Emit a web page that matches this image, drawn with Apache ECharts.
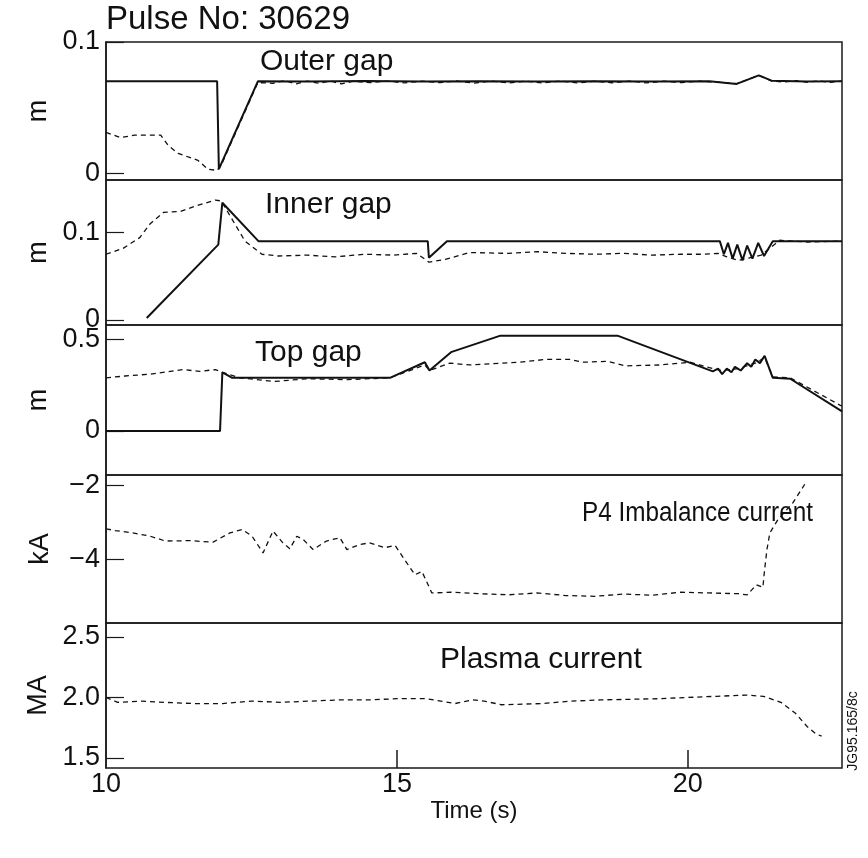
<!DOCTYPE html>
<html><head><meta charset="utf-8">
<script src="https://cdn.jsdelivr.net/npm/echarts@6/dist/echarts.min.js"></script>
<style>html,body{margin:0;padding:0;background:#fff}#c{width:868px;height:858px}</style>
</head><body><div id="c"></div>
<script>
// ---------- data ----------
const xLabelTicks = [10, 15, 20];
const xInnerTicks = [15, 20];

const outerGapRef = [[10,0.070],[11.91,0.070],[11.94,0.003],[12.61,0.070],[13.46,0.0698],[14.45,0.0702],[15.43,0.0699],[16.42,0.0701],[17.41,0.0699],[18.40,0.0701],[19.39,0.0699],[20.37,0.070],[20.84,0.068],[21.22,0.0745],[21.44,0.0705],[22.05,0.0698],[22.65,0.070]];
const outerGapMeas = [[10,0.031],[10.25,0.027],[10.49,0.029],[10.94,0.029],[11.07,0.021],[11.24,0.015],[11.58,0.0097],[11.75,0.003],[11.91,0.002],[11.98,0.006],[12.61,0.069],[12.87,0.0685],[13.07,0.0705],[13.27,0.068],[13.46,0.0702],[13.66,0.0685],[13.85,0.0703],[14.05,0.068],[14.25,0.0701],[14.54,0.069],[14.83,0.0702],[15.13,0.0688],[15.43,0.0701],[15.73,0.069],[16.02,0.0703],[16.32,0.0686],[16.62,0.0702],[16.92,0.0688],[17.21,0.0701],[17.51,0.0687],[17.81,0.0702],[18.1,0.0688],[18.4,0.0701],[18.7,0.0689],[19.0,0.0702],[19.29,0.0688],[19.59,0.0701],[19.88,0.069],[20.18,0.0701],[20.48,0.0695],[20.84,0.0682],[21.22,0.0745],[21.44,0.0702],[21.66,0.0695],[21.86,0.0705],[22.05,0.0693],[22.25,0.0703],[22.45,0.0692],[22.65,0.0702]];

const innerGapRef = [[10.70,0.002],[11.93,0.086],[12.0,0.134],[12.62,0.090],[15.53,0.090],[15.55,0.071],[15.86,0.090],[20.55,0.090],[20.62,0.075],[20.69,0.088],[20.77,0.070],[20.85,0.086],[20.94,0.068],[21.02,0.085],[21.11,0.070],[21.21,0.088],[21.31,0.073],[21.46,0.090],[22.65,0.090]];
const innerGapMeas = [[10,0.075],[10.30,0.082],[10.58,0.094],[10.76,0.110],[10.99,0.123],[11.28,0.124],[11.53,0.130],[11.88,0.137],[11.98,0.136],[12.39,0.090],[12.68,0.075],[12.96,0.073],[13.46,0.074],[13.95,0.072],[14.45,0.075],[14.94,0.074],[15.34,0.076],[15.55,0.066],[15.83,0.069],[16.25,0.077],[16.92,0.076],[17.41,0.078],[17.9,0.076],[18.4,0.075],[18.89,0.076],[19.39,0.074],[19.88,0.075],[20.28,0.075],[20.52,0.076],[20.67,0.072],[20.87,0.068],[21.07,0.071],[21.26,0.074],[21.58,0.091],[22.05,0.089],[22.65,0.090]];

const topGapRef = [[10,0],[11.96,0],[12.0,0.32],[12.17,0.29],[14.88,0.29],[15.48,0.375],[15.56,0.33],[15.93,0.43],[16.78,0.52],[18.79,0.52],[20.43,0.325],[20.52,0.34],[20.59,0.31],[20.67,0.34],[20.75,0.32],[20.81,0.35],[20.91,0.33],[21.02,0.37],[21.09,0.35],[21.16,0.39],[21.24,0.37],[21.32,0.41],[21.46,0.29],[21.76,0.285],[22.65,0.107]];
const topGapMeas = [[10,0.29],[10.33,0.30],[10.76,0.31],[11.32,0.335],[11.61,0.325],[11.88,0.335],[12.0,0.32],[12.3,0.29],[12.9,0.27],[13.46,0.285],[14.15,0.28],[14.88,0.29],[15.48,0.36],[15.56,0.33],[15.91,0.37],[16.25,0.36],[17.11,0.375],[17.55,0.39],[17.97,0.39],[18.2,0.375],[18.63,0.38],[18.92,0.355],[19.52,0.36],[20.04,0.375],[20.37,0.345],[20.57,0.33],[20.87,0.34],[21.16,0.37],[21.32,0.40],[21.46,0.295],[21.76,0.29],[22.65,0.135]];

const p4Imbalance = [[10.0,-3.17],[10.16,-3.22],[10.46,-3.28],[10.76,-3.37],[11.02,-3.5],[11.44,-3.49],[11.84,-3.53],[12.13,-3.28],[12.34,-3.19],[12.51,-3.37],[12.70,-3.82],[12.87,-3.23],[13.04,-3.55],[13.16,-3.71],[13.28,-3.37],[13.39,-3.46],[13.56,-3.73],[13.79,-3.5],[14.02,-3.41],[14.14,-3.73],[14.37,-3.59],[14.53,-3.55],[14.79,-3.68],[14.97,-3.62],[15.17,-4.09],[15.31,-4.41],[15.43,-4.32],[15.60,-4.9],[15.93,-4.88],[16.42,-4.92],[16.92,-4.95],[17.41,-4.9],[17.9,-4.97],[18.4,-4.99],[18.89,-4.93],[19.39,-4.96],[19.88,-4.88],[20.37,-4.9],[20.87,-4.92],[21.02,-4.95],[21.18,-4.68],[21.29,-4.75],[21.32,-4.27],[21.36,-3.73],[21.41,-3.28],[21.55,-2.92],[21.81,-2.46],[22.01,-1.97]];

const plasmaCurrent = [[10,2.0],[10.2,1.96],[10.6,1.97],[11.0,1.96],[11.5,1.95],[12.0,1.95],[12.5,1.97],[13.0,1.96],[13.5,1.97],[14.0,1.98],[14.5,1.98],[15.0,1.99],[15.5,1.99],[16.0,1.95],[16.3,1.98],[16.5,1.97],[16.8,1.94],[17.5,1.95],[18.0,1.97],[18.5,1.98],[19.5,1.99],[20.0,2.0],[20.5,2.01],[21.0,2.02],[21.3,2.01],[21.6,1.96],[21.85,1.87],[22.05,1.76],[22.2,1.70],[22.3,1.68]];

const panelNames = ['Outer gap','Inner gap','Top gap','P4 Imbalance current','Plasma current'];
const unitNames = ['m','m','m','kA','MA'];
const yTickValues = [[0,0.1],[0,0.1],[0,0.5],[-4,-2],[1.5,2.0,2.5]];
const yRanges = [[-0.0053,0.1],[-0.006,0.16],[-0.24,0.578],[-5.71,-1.72],[1.417,2.616]];

// ---------- layout ----------
const FONT = '"Liberation Sans", Arial, Helvetica, sans-serif';
const X_MAX = 22.65;
const gridBoxes = [[42,138],[180,145],[325,150],[475,148],[623,145]];
const labelPos = [[260,62],[265,205],[255,353],[582,514],[440,660]];
const labelSize = [30,30,30,27,30];
const labelScaleX = [1,1,1,0.9,1];
const fmt = [
  v => v===0 ? '0' : String(v),
  v => v===0 ? '0' : String(v),
  v => v===0 ? '0' : String(v),
  v => (v<0 ? '\u2212' + Math.abs(v) : String(v)),
  v => v.toFixed(1)
];

const grid = gridBoxes.map(g => ({left:106, right:26, top:g[0], height:g[1], show:true, borderColor:'#1a1a1a', borderWidth:1.5, backgroundColor:'transparent'}));
const xAxis = gridBoxes.map((g,i) => {
  const last = i === gridBoxes.length-1;
  return {
    type:'value', gridIndex:i, min:10, max:X_MAX,
    axisLine:{show:false}, splitLine:{show:false},
    axisTick:{show:last, inside:true, length:18, customValues:xInnerTicks, lineStyle:{color:'#1a1a1a', width:1.5}},
    axisLabel:{show:last, customValues:xLabelTicks, fontSize:27, color:'#111', fontFamily:FONT, margin:3},
    name: last ? 'Time (s)' : '', nameLocation:'middle', nameGap:25,
    nameTextStyle:{fontSize:24, color:'#111', fontFamily:FONT, verticalAlign:'top'}
  };
});
const yAxis = gridBoxes.map((g,i) => ({
  type:'value', gridIndex:i, min:yRanges[i][0], max:yRanges[i][1],
  axisLine:{show:true, lineStyle:{color:'#1a1a1a', width:1.5}}, splitLine:{show:false},
  axisTick:{show:true, inside:true, length:18, customValues:yTickValues[i], lineStyle:{color:'#1a1a1a', width:1.2}},
  axisLabel:{customValues:yTickValues[i], formatter:fmt[i], fontSize:27, color:'#111', fontFamily:FONT, margin:6},
  name:unitNames[i], nameLocation:'middle', nameGap:52, nameRotate:90,
  nameTextStyle:{fontSize:27, color:'#111', fontFamily:FONT}
}));

const solid = {color:'#111', width:2, type:'solid'};
const dashed = {color:'#111', width:1.3, type:[5,4]};
function line(data, idx, style){
  return {type:'line', xAxisIndex:idx, yAxisIndex:idx, data:data, showSymbol:false, symbol:'none', lineStyle:style, animation:false, z: style===solid?3:2};
}
const series = [
  line(outerGapRef,0,solid), line(outerGapMeas,0,dashed),
  line(innerGapRef,1,solid), line(innerGapMeas,1,dashed),
  line(topGapRef,2,solid), line(topGapMeas,2,dashed),
  line(p4Imbalance,3,dashed),
  line(plasmaCurrent,4,dashed)
];

const graphic = panelNames.map((t,i) => ({
  type:'text', x:labelPos[i][0], y:labelPos[i][1], scaleX:labelScaleX[i],
  style:{text:t, font:labelSize[i] + 'px ' + FONT, fill:'#111', verticalAlign:'middle', align:'left'}
}));
graphic.push({type:'text', x:106, y:20, style:{text:'Pulse No: 30629', font:'33px ' + FONT, fill:'#111', verticalAlign:'middle', align:'left'}});
graphic.push({type:'text', x:853, y:731, rotation:Math.PI/2, style:{text:'JG95.165/8c', font:'14px ' + FONT, fill:'#111', verticalAlign:'middle', align:'center'}});

const chart = echarts.init(document.getElementById('c'), null, {renderer:'canvas'});
chart.setOption({backgroundColor:'#fff', animation:false, grid, xAxis, yAxis, series, graphic});
</script>
</body></html>
